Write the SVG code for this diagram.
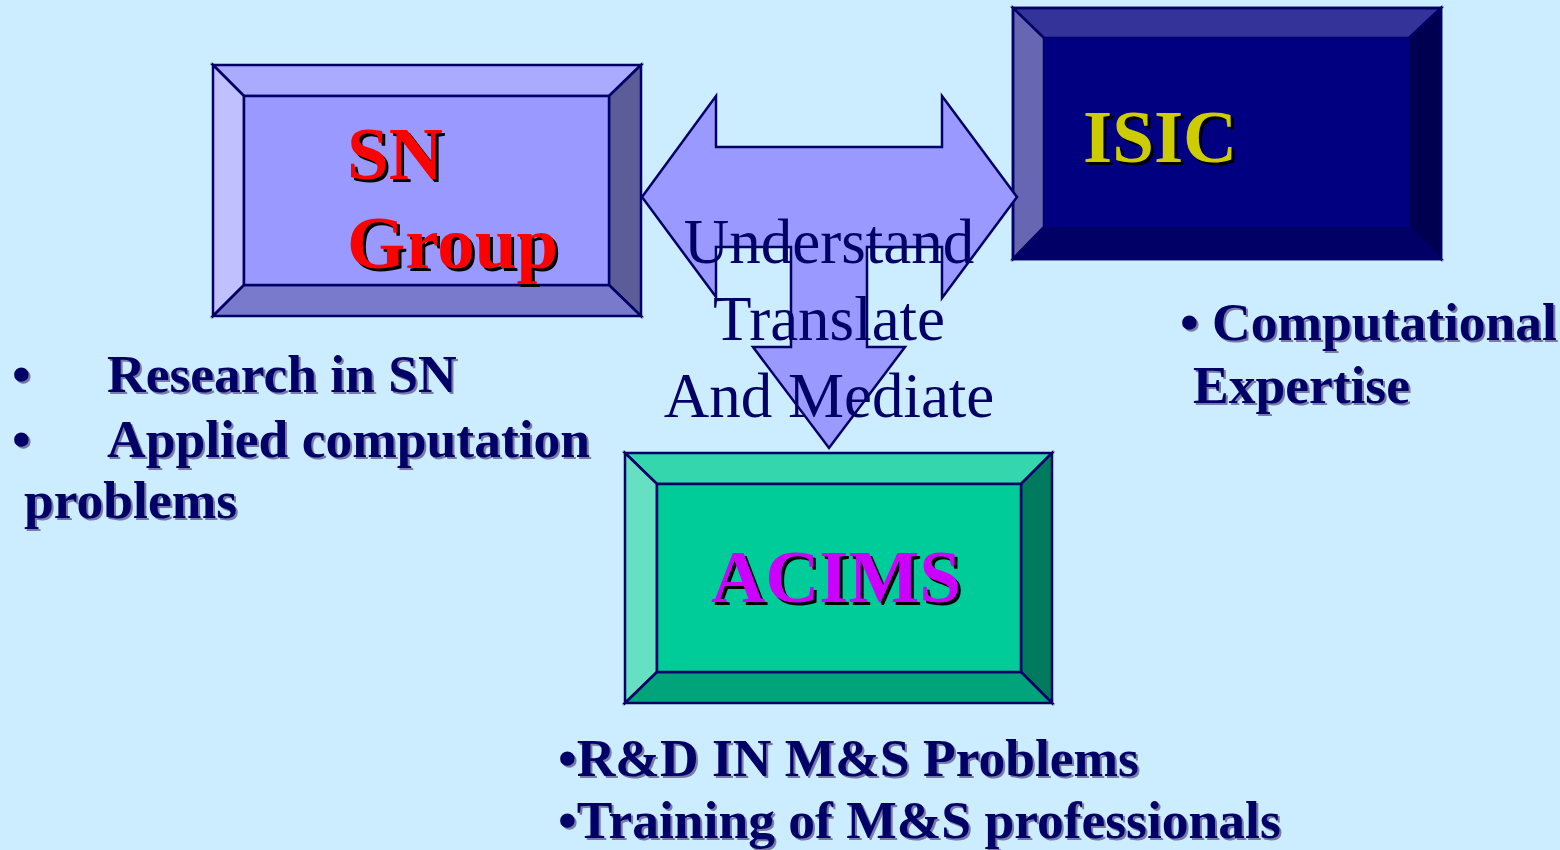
<svg xmlns="http://www.w3.org/2000/svg" width="1560" height="850" viewBox="0 0 1560 850">
<style>
.edge{stroke:#000066;stroke-width:2.5;stroke-linejoin:miter}
.title{font-family:"Liberation Serif","Times New Roman",serif;font-weight:bold;font-size:75px}
.bul{font-family:"Liberation Serif","Times New Roman",serif;font-weight:bold;font-size:53.5px;fill:#000066}
.sh{fill:#000000}
.bsh{fill:#7a7aa8}
.mid{font-family:"Liberation Serif","Times New Roman",serif;font-size:63px;fill:#000066;text-anchor:middle}
</style>
<rect x="0" y="0" width="1560" height="850" fill="#CCECFF"/>

<g id="sn-group">
<polygon class="edge" fill="#AAAAFF" points="213,65 641,65 609,96 244,96"/>
<polygon class="edge" fill="#C0C0FF" points="213,65 244,96 244,285 213,316"/>
<polygon class="edge" fill="#5C5C99" points="641,65 641,316 609,285 609,96"/>
<polygon class="edge" fill="#7A7ACC" points="213,316 244,285 609,285 641,316"/>
<rect class="edge" fill="#9999FF" x="244" y="96" width="365" height="189"/>
<text class="title sh" x="350" y="182">SN</text>
<text class="title" fill="#FF0000" x="347" y="179">SN</text>
<text class="title sh" x="350" y="271">Group</text>
<text class="title" fill="#FF0000" x="347" y="268">Group</text>
<text class="bul bsh" x="14" y="394">•</text>
<text class="bul" x="12" y="392">•</text>
<text class="bul bsh" x="109" y="394">Research in SN</text>
<text class="bul" x="107" y="392">Research in SN</text>
<text class="bul bsh" x="14" y="459">•</text>
<text class="bul" x="12" y="457">•</text>
<text class="bul bsh" x="109" y="459">Applied computation</text>
<text class="bul" x="107" y="457">Applied computation</text>
<text class="bul bsh" x="26" y="520">problems</text>
<text class="bul" x="24" y="518">problems</text>
</g>

<g id="isic">
<polygon class="edge" fill="#333399" points="1013,8 1441,8 1409,38 1044,38"/>
<polygon class="edge" fill="#6666B3" points="1013,8 1044,38 1044,227 1013,259"/>
<polygon class="edge" fill="#000050" points="1441,8 1441,259 1409,227 1409,38"/>
<polygon class="edge" fill="#000066" points="1013,259 1044,227 1409,227 1441,259"/>
<rect fill="#000080" x="1044" y="38" width="365" height="189"/>
<rect fill="none" class="edge" x="1013" y="8" width="428" height="251"/>
<text class="title sh" x="1086" y="165">ISIC</text>
<text class="title" fill="#CCCC00" x="1083" y="162">ISIC</text>
<text class="bul bsh" x="1182" y="342">• Computational</text>
<text class="bul" x="1180" y="340">• Computational</text>
<text class="bul bsh" x="1195" y="405">Expertise</text>
<text class="bul" x="1193" y="403">Expertise</text>
</g>

<g id="acims">
<polygon class="edge" fill="#33D6AD" points="625,453 1052,453 1021,484 657,484"/>
<polygon class="edge" fill="#66E0C2" points="625,453 657,484 657,672 625,703"/>
<polygon class="edge" fill="#007A5C" points="1052,453 1052,703 1021,672 1021,484"/>
<polygon class="edge" fill="#00A37A" points="625,703 657,672 1021,672 1052,703"/>
<rect class="edge" fill="#00CC99" x="657" y="484" width="364" height="188"/>
<text class="title sh" x="714" y="605">ACIMS</text>
<text class="title" fill="#CC00FF" x="711" y="602">ACIMS</text>
<text class="bul bsh" x="560" y="778">•R&amp;D IN M&amp;S Problems</text>
<text class="bul" x="558" y="776">•R&amp;D IN M&amp;S Problems</text>
<text class="bul bsh" x="560" y="840">•Training of M&amp;S professionals</text>
<text class="bul" x="558" y="838">•Training of M&amp;S professionals</text>
</g>

<g id="connectors">
<polygon fill="#9999FF" stroke="#000066" stroke-width="2.5" stroke-linejoin="miter" points="642,197 716,96 716,147 942,147 942,96 1017,197 942,298 942,247 867,247 867,347 905,347 829,448 753,347 791,347 791,247 716,247 716,297"/>
<text class="mid" x="829" y="263">Understand</text>
<text class="mid" x="829" y="340">Translate</text>
<text class="mid" x="829" y="417">And Mediate</text>
</g>
</svg>
